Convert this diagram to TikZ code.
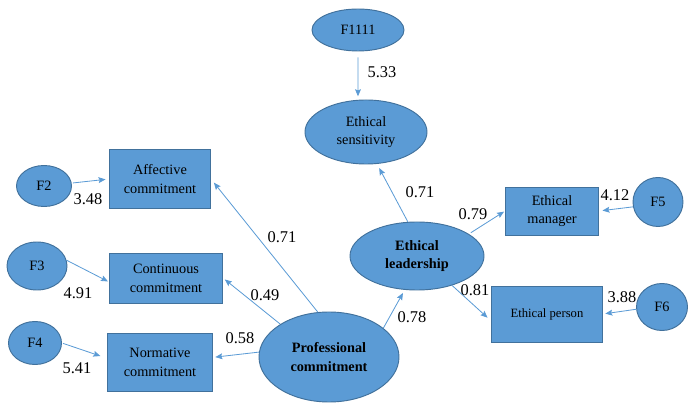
\documentclass[tikz,border=0pt]{standalone}
\usepackage{fontspec}
\setmainfont{Liberation Serif}
\usetikzlibrary{arrows.meta,shapes.geometric}

\definecolor{boxblue}{HTML}{5B9BD5}
\definecolor{boxline}{HTML}{41719C}

\begin{document}
\begin{tikzpicture}[x=0.03cm,y=-0.03cm,
    wh/.style 2 args={minimum width=#1*0.03cm,minimum height=#2*0.03cm},
    lat/.style={ellipse,draw=boxline,fill=boxblue,line width=0.8pt,inner sep=0pt,align=center,font=\fontsize{12.2}{16}\selectfont},
    obs/.style={rectangle,draw=boxline,fill=boxblue,line width=0.8pt,inner sep=0pt,align=center,font=\fontsize{12.2}{16}\selectfont},
    link/.style={draw=boxblue,line width=0.7pt,-{Stealth[length=6pt,width=5pt,inset=1pt]}},
    coef/.style={inner sep=0pt,font=\fontsize{14}{16}\selectfont}]
  \useasboundingbox (0,0) rectangle (695,404);

  \node[lat,wh={92}{42}] (f1) at (358,30) {F1111};
  \node[lat,wh={122}{64}] (es) at (366,132) {Ethical\\sensitivity};
  \node[lat,wh={134}{68},font=\fontsize{12.2}{16}\selectfont\bfseries] (el) at (417,256) {Ethical\\leadership};
  \node[lat,wh={140}{90},font=\fontsize{12.2}{16}\selectfont\bfseries] (pc) at (329,357) {Professional\\commitment};
  \node[obs,wh={93}{48}] (em) at (552,211) {Ethical\\manager};
  \node[obs,wh={111}{56},font=\fontsize{10.8}{14}\selectfont] (ep) at (547,314) {Ethical person};
  \node[lat,wh={50}{49}] (f5) at (658,202) {F5};
  \node[lat,wh={51}{47}] (f6) at (662,307) {F6};
  \node[obs,wh={101}{59}] (ac) at (160,179) {Affective\\commitment};
  \node[obs,wh={113}{50}] (cc) at (166,278) {Continuous\\commitment};
  \node[obs,wh={105}{58}] (nc) at (160,362) {Normative\\commitment};
  \node[lat,wh={55}{41}] (f2) at (44,186) {F2};
  \node[lat,wh={60}{48}] (f3) at (37,266) {F3};
  \node[lat,wh={53}{43}] (f4) at (35,343) {F4};

  \draw[link,shorten <=5pt,shorten >=3pt] (f1.south) -- (es.104);
  \draw[link,shorten >=4pt] (el.105) -- (es.-71);
  \draw[link,shorten <=2pt,shorten >=1pt] (el.23) -- (em.west);
  \draw[link,shorten >=3pt] (f5.191) -- (em.east);
  \draw[link,shorten >=4pt] (el.-40) -- (ep.187);
  \draw[link,shorten >=2pt] (f6.185) -- (ep.east);
  \draw[link,shorten >=3pt] (pc.28) -- (el.-110);
  \draw[link,shorten >=4pt] (pc.104) -- (ac.east);
  \draw[link,shorten >=2pt] (pc.146) -- (cc.east);
  \draw[link,shorten >=2pt] (pc.176) -- (nc.5);
  \draw[link,shorten <=1pt,shorten >=3pt] (f2.6) -- (ac.west);
  \draw[link,shorten >=1pt] (f3.11) -- (cc.184);
  \draw[link,shorten <=1pt,shorten >=6pt] (f4.east) -- (nc.176);

  \node[coef] (c1) at (382,72) {5.33};
  \node[coef] (c2) at (420,192) {0.71};
  \node[coef] (c3) at (473,214) {0.79};
  \node[coef] (c4) at (615,195) {4.12};
  \node[coef] (c5) at (475,290) {0.81};
  \node[coef] (c6) at (622,297) {3.88};
  \node[coef] (c7) at (412,317) {0.78};
  \node[coef] (c8) at (282,237) {0.71};
  \node[coef] (c9) at (265,295) {0.49};
  \node[coef] (c10) at (240,338) {0.58};
  \node[coef] (c11) at (88,199) {3.48};
  \node[coef] (c12) at (78,293) {4.91};
  \node[coef] (c13) at (77,368) {5.41};
\end{tikzpicture}
\end{document}
